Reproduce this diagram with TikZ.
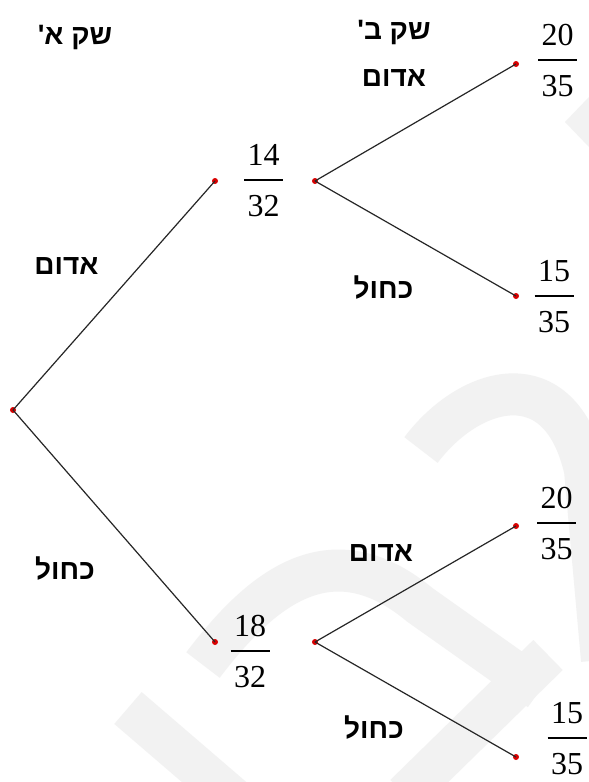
\documentclass[tikz,border=0pt]{standalone}
\usepackage{fontspec}
\setmainfont{Liberation Serif}
\newfontfamily\hebfont[Script=Hebrew]{Liberation Sans}
\TeXXeTstate=1
\tikzset{
  dot/.style={circle, fill=red!85!black, inner sep=0pt, minimum size=6pt},
  branch/.style={draw=black!85, line width=1.2pt},
  lbl/.style={font=\hebfont\bfseries\fontsize{28}{32}\selectfont, inner sep=0pt, anchor=base},
  dig/.style={font=\fontsize{32}{38}\selectfont, inner sep=0pt, anchor=base},
  frline/.style={line width=1.8pt},
  wm/.style={draw=black!5, line width=42pt, line cap=butt},
}
\newcommand{\hfr}[5]{%
  \node[dig] (#1n) at (#2,#3-15) {#4};
  \node[dig] (#1d) at (#2,#3+36) {#5};
  \draw[frline] (#2-19.5,#3) -- (#2+19.5,#3);
}
\begin{document}
\begin{tikzpicture}[x=1pt,y=-1pt]
\clip (0,0) rectangle (589,782);
\fill[white] (0,0) rectangle (589,782);
% watermark
\draw[wm] (421,450) .. controls (470,385) and (560,360) .. (585,470) -- (602,660);
\draw[wm] (203,665) .. controls (260,590) and (330,530) .. (420,605) -- (540,690);
\draw[wm] (548,655) -- (405,795);
\draw[wm] (128,708) -- (235,800);
\fill[black!5] (565,122) -- (589,97) -- (589,147) -- cycle;
% dots
\node[dot] (r) at (13,410) {};
\node[dot] (a1) at (215,181) {};
\node[dot] (a2) at (215,642) {};
\node[dot] (b1) at (315,181) {};
\node[dot] (b2) at (315,642) {};
\node[dot] (l1) at (516,64) {};
\node[dot] (l2) at (516,296) {};
\node[dot] (l3) at (516,526) {};
\node[dot] (l4) at (516,757) {};
% branches
\draw[branch] (r.center) -- (a1.center);
\draw[branch] (r.center) -- (a2.center);
\draw[branch] (b1.center) -- (l1.center);
\draw[branch] (b1.center) -- (l2.center);
\draw[branch] (b2.center) -- (l3.center);
\draw[branch] (b2.center) -- (l4.center);
% fractions
\hfr{f1}{263.5}{180}{14}{32}
\hfr{f2}{250}{651}{18}{32}
\hfr{f3}{557.5}{60}{20}{35}
\hfr{f4}{554}{296}{15}{35}
\hfr{f5}{556.5}{523}{20}{35}
\hfr{f6}{567}{738}{15}{35}
% labels
\node[lbl] (sa) at (75,44) {\beginR שק א{\char39}\endR};
\node[lbl] (sb) at (394,39) {\beginR שק ב{\char39}\endR};
\node[lbl] (t1) at (394,86) {\beginR אדום\endR};
\node[lbl] (t0) at (66.5,274) {\beginR אדום\endR};
\node[lbl] (t2) at (383.5,298) {\beginR כחול\endR};
\node[lbl] (t3) at (65,579) {\beginR כחול\endR};
\node[lbl] (t4) at (381,561) {\beginR אדום\endR};
\node[lbl] (t5) at (374,738) {\beginR כחול\endR};
\end{tikzpicture}
\end{document}
